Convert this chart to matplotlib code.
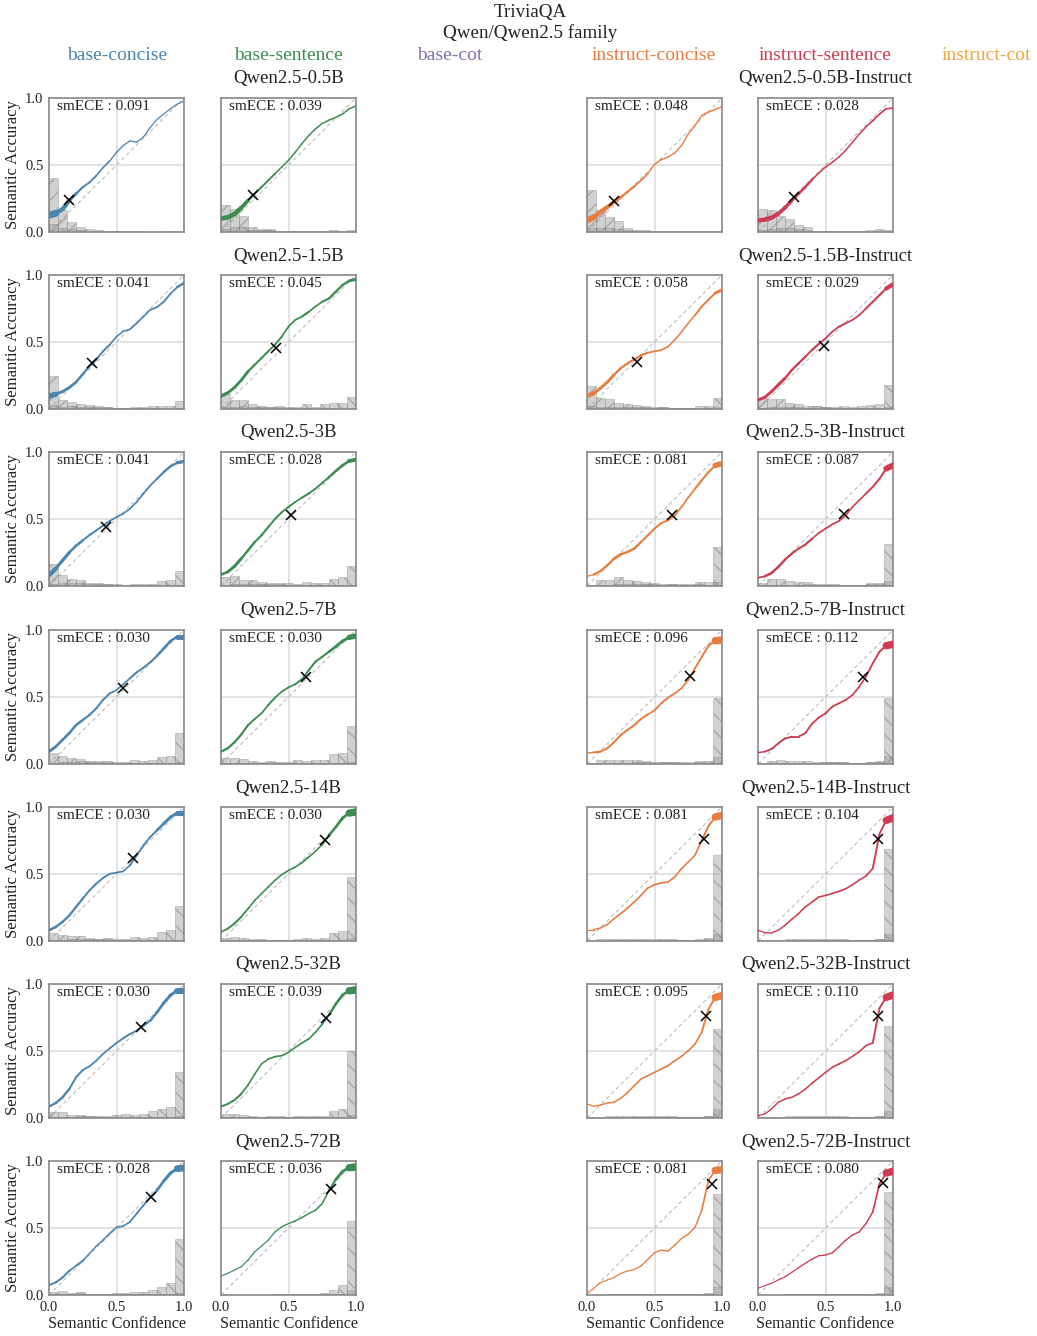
import numpy as np
import matplotlib
matplotlib.use('Agg')
import matplotlib.pyplot as plt
from matplotlib.collections import LineCollection

plt.rcParams['font.family'] = ['Liberation Serif', 'DejaVu Serif']

MODEL_SIZES = ['0.5B', '1.5B', '3B', '7B', '14B', '32B', '72B']
SETTINGS = ['base-concise', 'base-sentence', 'base-cot',
            'instruct-concise', 'instruct-sentence', 'instruct-cot']
SETTING_COLORS = ['#4a84b0', '#3b8d52', '#8172b3', '#ea7b3f', '#cf3b50', '#f0a63e']

CONF_GRID = np.linspace(0, 1, 21)     # smoothed curve sample points
BIN_EDGES = np.linspace(0, 1, 16)     # 15 confidence bins

# smoothed accuracy vs confidence, one list per model size
bc_acc = [
    [0.125, 0.14, 0.17, 0.235, 0.285, 0.335, 0.37, 0.42, 0.48, 0.53, 0.595, 0.645, 0.68, 0.67, 0.71, 0.78, 0.84, 0.88, 0.92, 0.955, 0.975],
    [0.097, 0.11, 0.13, 0.16, 0.20, 0.26, 0.32, 0.37, 0.43, 0.48, 0.54, 0.58, 0.595, 0.64, 0.69, 0.74, 0.76, 0.80, 0.86, 0.91, 0.94],
    [0.08, 0.13, 0.19, 0.25, 0.30, 0.34, 0.38, 0.415, 0.45, 0.485, 0.515, 0.54, 0.577, 0.627, 0.69, 0.75, 0.80, 0.85, 0.893, 0.92, 0.93],
    [0.092, 0.13, 0.18, 0.23, 0.29, 0.328, 0.366, 0.415, 0.478, 0.527, 0.552, 0.595, 0.64, 0.684, 0.719, 0.759, 0.808, 0.863, 0.918, 0.95, 0.95],
    [0.08, 0.105, 0.142, 0.19, 0.254, 0.316, 0.378, 0.428, 0.47, 0.502, 0.51, 0.52, 0.565, 0.64, 0.714, 0.776, 0.826, 0.876, 0.925, 0.955, 0.955],
    [0.085, 0.112, 0.154, 0.216, 0.303, 0.358, 0.386, 0.428, 0.478, 0.52, 0.56, 0.595, 0.627, 0.652, 0.689, 0.726, 0.789, 0.858, 0.918, 0.95, 0.95],
    [0.074, 0.094, 0.13, 0.18, 0.218, 0.255, 0.31, 0.365, 0.41, 0.46, 0.504, 0.514, 0.546, 0.608, 0.67, 0.727, 0.78, 0.85, 0.91, 0.943, 0.948],
]
bs_acc = [
    [0.10, 0.11, 0.135, 0.18, 0.235, 0.285, 0.335, 0.385, 0.435, 0.485, 0.535, 0.595, 0.66, 0.72, 0.77, 0.81, 0.835, 0.855, 0.88, 0.92, 0.94],
    [0.097, 0.12, 0.16, 0.215, 0.28, 0.33, 0.38, 0.43, 0.48, 0.54, 0.615, 0.665, 0.69, 0.725, 0.765, 0.80, 0.825, 0.875, 0.925, 0.957, 0.967],
    [0.085, 0.105, 0.147, 0.204, 0.266, 0.328, 0.378, 0.44, 0.50, 0.55, 0.59, 0.627, 0.66, 0.69, 0.726, 0.77, 0.813, 0.858, 0.90, 0.933, 0.943],
    [0.092, 0.117, 0.162, 0.22, 0.29, 0.336, 0.378, 0.44, 0.495, 0.54, 0.572, 0.595, 0.634, 0.70, 0.764, 0.80, 0.838, 0.876, 0.918, 0.945, 0.955],
    [0.067, 0.092, 0.13, 0.18, 0.241, 0.303, 0.353, 0.403, 0.453, 0.495, 0.527, 0.552, 0.585, 0.627, 0.67, 0.72, 0.789, 0.85, 0.918, 0.955, 0.963],
    [0.085, 0.105, 0.134, 0.18, 0.246, 0.328, 0.403, 0.44, 0.458, 0.465, 0.49, 0.527, 0.56, 0.59, 0.64, 0.70, 0.769, 0.85, 0.918, 0.95, 0.955],
    [0.141, 0.161, 0.186, 0.211, 0.26, 0.323, 0.365, 0.41, 0.471, 0.509, 0.533, 0.553, 0.578, 0.608, 0.633, 0.682, 0.78, 0.861, 0.923, 0.95, 0.955],
]
ic_acc = [
    [0.087, 0.11, 0.15, 0.185, 0.225, 0.26, 0.30, 0.34, 0.385, 0.435, 0.505, 0.54, 0.56, 0.59, 0.645, 0.73, 0.795, 0.87, 0.895, 0.915, 0.935],
    [0.097, 0.117, 0.155, 0.20, 0.255, 0.305, 0.34, 0.37, 0.40, 0.42, 0.43, 0.44, 0.465, 0.515, 0.575, 0.64, 0.70, 0.765, 0.815, 0.865, 0.89],
    [0.072, 0.085, 0.112, 0.154, 0.204, 0.236, 0.254, 0.279, 0.328, 0.378, 0.428, 0.47, 0.49, 0.527, 0.59, 0.66, 0.726, 0.789, 0.85, 0.90, 0.913],
    [0.08, 0.087, 0.092, 0.117, 0.162, 0.216, 0.254, 0.29, 0.336, 0.37, 0.40, 0.453, 0.495, 0.527, 0.565, 0.627, 0.714, 0.80, 0.883, 0.92, 0.925],
    [0.085, 0.085, 0.097, 0.122, 0.167, 0.204, 0.246, 0.291, 0.34, 0.395, 0.42, 0.433, 0.44, 0.478, 0.54, 0.59, 0.64, 0.751, 0.858, 0.925, 0.938],
    [0.105, 0.087, 0.097, 0.112, 0.117, 0.147, 0.19, 0.241, 0.291, 0.316, 0.34, 0.366, 0.39, 0.428, 0.46, 0.502, 0.552, 0.64, 0.813, 0.90, 0.913],
    [0.017, 0.05, 0.092, 0.112, 0.13, 0.161, 0.179, 0.191, 0.216, 0.265, 0.315, 0.335, 0.328, 0.372, 0.422, 0.454, 0.504, 0.633, 0.856, 0.93, 0.935],
]
is_acc = [
    [0.087, 0.092, 0.107, 0.137, 0.18, 0.235, 0.285, 0.335, 0.39, 0.44, 0.485, 0.52, 0.56, 0.61, 0.67, 0.73, 0.785, 0.83, 0.88, 0.92, 0.925],
    [0.067, 0.087, 0.13, 0.18, 0.23, 0.29, 0.34, 0.39, 0.44, 0.485, 0.527, 0.577, 0.615, 0.64, 0.665, 0.70, 0.75, 0.80, 0.85, 0.90, 0.93],
    [0.062, 0.072, 0.097, 0.142, 0.197, 0.241, 0.279, 0.308, 0.353, 0.395, 0.428, 0.46, 0.485, 0.527, 0.59, 0.64, 0.69, 0.74, 0.80, 0.876, 0.90],
    [0.085, 0.092, 0.112, 0.154, 0.19, 0.204, 0.204, 0.229, 0.30, 0.346, 0.378, 0.428, 0.453, 0.478, 0.515, 0.577, 0.652, 0.751, 0.838, 0.883, 0.893],
    [0.08, 0.062, 0.06, 0.08, 0.117, 0.162, 0.204, 0.254, 0.291, 0.328, 0.34, 0.355, 0.37, 0.39, 0.42, 0.455, 0.485, 0.54, 0.80, 0.90, 0.92],
    [0.017, 0.03, 0.067, 0.117, 0.142, 0.154, 0.18, 0.216, 0.259, 0.30, 0.34, 0.378, 0.403, 0.428, 0.46, 0.495, 0.54, 0.56, 0.82, 0.90, 0.918],
    [0.05, 0.07, 0.087, 0.112, 0.136, 0.169, 0.203, 0.236, 0.268, 0.293, 0.298, 0.315, 0.36, 0.409, 0.447, 0.471, 0.533, 0.62, 0.83, 0.91, 0.923],
]

# share of answers per confidence bin, split into wrong / right
bc_inc = [
    [0.40, 0.165, 0.075, 0.035, 0.02, 0.012, 0.008, 0.004, 0.003, 0.002, 0.002, 0.001, 0.001, 0.001, 0.001],
    [0.25, 0.07, 0.055, 0.04, 0.03, 0.022, 0.015, 0.008, 0.006, 0.006, 0.005, 0.004, 0.004, 0.003, 0.005],
    [0.167, 0.085, 0.05, 0.045, 0.022, 0.02, 0.015, 0.01, 0.007, 0.007, 0.006, 0.004, 0.005, 0.005, 0.008],
    [0.08, 0.06, 0.048, 0.04, 0.025, 0.02, 0.015, 0.008, 0.007, 0.008, 0.006, 0.005, 0.006, 0.005, 0.012],
    [0.06, 0.045, 0.04, 0.035, 0.02, 0.015, 0.012, 0.007, 0.006, 0.007, 0.005, 0.004, 0.005, 0.005, 0.01],
    [0.047, 0.045, 0.025, 0.022, 0.012, 0.01, 0.008, 0.009, 0.008, 0.006, 0.006, 0.006, 0.006, 0.006, 0.015],
    [0.025, 0.03, 0.015, 0.02, 0.006, 0.006, 0.006, 0.006, 0.006, 0.005, 0.006, 0.006, 0.007, 0.008, 0.015],
]
bc_cor = [
    [0.06, 0.03, 0.02, 0.013, 0.01, 0.007, 0.008, 0.004, 0.004, 0.004, 0.003, 0.003, 0.003, 0.004, 0.003],
    [0.03, 0.015, 0.02, 0.017, 0.015, 0.014, 0.018, 0.01, 0.011, 0.016, 0.012, 0.023, 0.024, 0.024, 0.06],
    [0.017, 0.022, 0.02, 0.025, 0.013, 0.016, 0.018, 0.012, 0.01, 0.015, 0.016, 0.018, 0.035, 0.047, 0.112],
    [0.01, 0.012, 0.017, 0.025, 0.017, 0.015, 0.022, 0.014, 0.015, 0.029, 0.024, 0.032, 0.055, 0.06, 0.234],
    [0.008, 0.01, 0.012, 0.017, 0.015, 0.018, 0.02, 0.015, 0.016, 0.03, 0.025, 0.033, 0.067, 0.085, 0.26],
    [0.007, 0.011, 0.01, 0.013, 0.012, 0.013, 0.014, 0.021, 0.029, 0.024, 0.031, 0.054, 0.07, 0.085, 0.34],
    [0.005, 0.008, 0.004, 0.015, 0.006, 0.006, 0.011, 0.014, 0.014, 0.02, 0.024, 0.037, 0.062, 0.092, 0.417],
]
bs_inc = [
    [0.20, 0.175, 0.117, 0.04, 0.02, 0.02, 0.008, 0.006, 0.005, 0.004, 0.004, 0.003, 0.003, 0.003, 0.002],
    [0.11, 0.07, 0.07, 0.035, 0.025, 0.016, 0.012, 0.008, 0.006, 0.007, 0.005, 0.004, 0.004, 0.003, 0.004],
    [0.067, 0.077, 0.047, 0.042, 0.028, 0.02, 0.015, 0.01, 0.008, 0.009, 0.006, 0.005, 0.005, 0.005, 0.008],
    [0.047, 0.042, 0.037, 0.025, 0.016, 0.013, 0.009, 0.008, 0.008, 0.007, 0.006, 0.005, 0.006, 0.005, 0.012],
    [0.022, 0.03, 0.022, 0.015, 0.012, 0.009, 0.008, 0.007, 0.006, 0.006, 0.005, 0.004, 0.005, 0.005, 0.02],
    [0.03, 0.03, 0.022, 0.015, 0.011, 0.01, 0.009, 0.007, 0.006, 0.006, 0.005, 0.004, 0.005, 0.005, 0.025],
    [0.003, 0.003, 0.003, 0.003, 0.003, 0.003, 0.003, 0.004, 0.004, 0.004, 0.004, 0.004, 0.005, 0.006, 0.04],
]
bs_cor = [
    [0.02, 0.035, 0.035, 0.015, 0.012, 0.012, 0.007, 0.008, 0.009, 0.009, 0.01, 0.01, 0.014, 0.01, 0.012],
    [0.012, 0.015, 0.02, 0.015, 0.014, 0.017, 0.02, 0.015, 0.017, 0.037, 0.018, 0.037, 0.047, 0.047, 0.087],
    [0.007, 0.017, 0.012, 0.014, 0.014, 0.015, 0.024, 0.021, 0.015, 0.029, 0.025, 0.026, 0.055, 0.067, 0.15],
    [0.007, 0.007, 0.007, 0.01, 0.009, 0.023, 0.015, 0.015, 0.027, 0.024, 0.032, 0.033, 0.072, 0.08, 0.28],
    [0.003, 0.008, 0.006, 0.005, 0.007, 0.009, 0.01, 0.011, 0.012, 0.024, 0.014, 0.026, 0.06, 0.072, 0.478],
    [0.004, 0.006, 0.005, 0.005, 0.007, 0.013, 0.014, 0.011, 0.016, 0.017, 0.017, 0.018, 0.055, 0.067, 0.50],
    [0.0, 0.001, 0.001, 0.002, 0.002, 0.003, 0.004, 0.005, 0.007, 0.009, 0.01, 0.013, 0.037, 0.074, 0.55],
]
ic_inc = [
    [0.31, 0.166, 0.11, 0.08, 0.032, 0.017, 0.012, 0.006, 0.006, 0.005, 0.004, 0.004, 0.003, 0.004, 0.003],
    [0.17, 0.08, 0.072, 0.042, 0.035, 0.03, 0.025, 0.015, 0.012, 0.008, 0.007, 0.006, 0.01, 0.008, 0.012],
    [0.005, 0.042, 0.047, 0.067, 0.042, 0.04, 0.03, 0.025, 0.018, 0.016, 0.012, 0.01, 0.012, 0.01, 0.03],
    [0.01, 0.03, 0.033, 0.032, 0.028, 0.028, 0.02, 0.015, 0.016, 0.012, 0.01, 0.009, 0.012, 0.013, 0.055],
    [0.005, 0.012, 0.015, 0.015, 0.015, 0.016, 0.015, 0.014, 0.013, 0.012, 0.011, 0.009, 0.011, 0.016, 0.055],
    [0.004, 0.009, 0.014, 0.012, 0.012, 0.015, 0.012, 0.014, 0.013, 0.013, 0.011, 0.01, 0.011, 0.016, 0.067],
    [0.001, 0.003, 0.004, 0.005, 0.005, 0.006, 0.006, 0.007, 0.007, 0.007, 0.008, 0.008, 0.009, 0.012, 0.062],
]
ic_cor = [
    [0.03, 0.03, 0.03, 0.025, 0.012, 0.008, 0.008, 0.004, 0.006, 0.005, 0.004, 0.005, 0.005, 0.008, 0.01],
    [0.02, 0.015, 0.017, 0.012, 0.012, 0.015, 0.018, 0.01, 0.012, 0.006, 0.008, 0.008, 0.022, 0.024, 0.082],
    [0.001, 0.006, 0.008, 0.015, 0.012, 0.015, 0.012, 0.015, 0.011, 0.012, 0.01, 0.015, 0.027, 0.028, 0.29],
    [0.001, 0.004, 0.007, 0.009, 0.008, 0.013, 0.013, 0.01, 0.017, 0.012, 0.013, 0.014, 0.019, 0.025, 0.495],
    [0.001, 0.002, 0.004, 0.005, 0.006, 0.006, 0.008, 0.008, 0.009, 0.009, 0.007, 0.007, 0.012, 0.02, 0.64],
    [0.001, 0.001, 0.002, 0.002, 0.003, 0.004, 0.004, 0.006, 0.007, 0.008, 0.007, 0.007, 0.01, 0.015, 0.664],
    [0.0, 0.0, 0.0, 0.001, 0.001, 0.001, 0.002, 0.002, 0.003, 0.003, 0.003, 0.003, 0.005, 0.01, 0.757],
]
is_inc = [
    [0.174, 0.166, 0.117, 0.1, 0.05, 0.037, 0.01, 0.008, 0.006, 0.005, 0.004, 0.004, 0.003, 0.004, 0.003],
    [0.085, 0.077, 0.077, 0.042, 0.035, 0.022, 0.025, 0.012, 0.01, 0.008, 0.006, 0.005, 0.006, 0.005, 0.012],
    [0.022, 0.055, 0.05, 0.035, 0.028, 0.03, 0.012, 0.015, 0.013, 0.01, 0.009, 0.008, 0.012, 0.012, 0.035],
    [0.01, 0.025, 0.027, 0.025, 0.022, 0.02, 0.017, 0.015, 0.014, 0.012, 0.011, 0.01, 0.012, 0.014, 0.06],
    [0.005, 0.009, 0.011, 0.012, 0.012, 0.013, 0.014, 0.013, 0.013, 0.014, 0.011, 0.01, 0.011, 0.016, 0.05],
    [0.005, 0.009, 0.011, 0.015, 0.012, 0.012, 0.014, 0.012, 0.013, 0.012, 0.011, 0.01, 0.011, 0.016, 0.055],
    [0.001, 0.002, 0.003, 0.004, 0.005, 0.005, 0.006, 0.006, 0.007, 0.007, 0.007, 0.007, 0.008, 0.012, 0.057],
]
is_cor = [
    [0.015, 0.025, 0.03, 0.03, 0.02, 0.017, 0.007, 0.007, 0.009, 0.009, 0.01, 0.01, 0.015, 0.02, 0.017],
    [0.01, 0.012, 0.017, 0.012, 0.013, 0.01, 0.021, 0.014, 0.012, 0.024, 0.018, 0.019, 0.033, 0.034, 0.18],
    [0.002, 0.007, 0.007, 0.009, 0.01, 0.013, 0.007, 0.01, 0.011, 0.008, 0.009, 0.01, 0.02, 0.025, 0.31],
    [0.001, 0.003, 0.005, 0.006, 0.007, 0.01, 0.011, 0.012, 0.013, 0.012, 0.011, 0.01, 0.015, 0.02, 0.495],
    [0.001, 0.001, 0.002, 0.003, 0.004, 0.005, 0.007, 0.006, 0.008, 0.008, 0.006, 0.006, 0.01, 0.015, 0.69],
    [0.0, 0.001, 0.002, 0.002, 0.003, 0.004, 0.005, 0.005, 0.006, 0.006, 0.006, 0.006, 0.01, 0.015, 0.69],
    [0.0, 0.0, 0.0, 0.001, 0.001, 0.001, 0.002, 0.002, 0.003, 0.003, 0.002, 0.003, 0.005, 0.01, 0.77],
]

# (mean confidence, mean accuracy)
bc_mean = [(0.15, 0.24), (0.32, 0.34), (0.42, 0.44), (0.55, 0.565), (0.62, 0.62), (0.68, 0.68), (0.757, 0.732)]
bs_mean = [(0.24, 0.275), (0.41, 0.455), (0.52, 0.53), (0.63, 0.65), (0.77, 0.752), (0.78, 0.746), (0.817, 0.794)]
ic_mean = [(0.2, 0.23), (0.37, 0.35), (0.63, 0.53), (0.76, 0.66), (0.87, 0.76), (0.88, 0.76), (0.926, 0.826)]
is_mean = [(0.265, 0.26), (0.49, 0.47), (0.635, 0.54), (0.78, 0.65), (0.89, 0.76), (0.89, 0.76), (0.923, 0.836)]

bc_ece = [0.091, 0.041, 0.041, 0.030, 0.030, 0.030, 0.028]
bs_ece = [0.039, 0.045, 0.028, 0.030, 0.030, 0.039, 0.036]
ic_ece = [0.048, 0.058, 0.081, 0.096, 0.081, 0.095, 0.081]
is_ece = [0.028, 0.029, 0.087, 0.112, 0.104, 0.110, 0.080]

# column index -> data for that setting (cot columns have no runs)
panels = {
    0: (bc_acc, bc_inc, bc_cor, bc_mean, bc_ece),
    1: (bs_acc, bs_inc, bs_cor, bs_mean, bs_ece),
    3: (ic_acc, ic_inc, ic_cor, ic_mean, ic_ece),
    4: (is_acc, is_inc, is_cor, is_mean, is_ece),
}

# layout in pixels
W, H = 1037, 1336
COL_LEFT = [49, 221, 392, 587, 758, 929]
ROW_TOP = [98, 275, 452, 630, 807, 984, 1161]
AX_W, AX_H = 135, 134
HEADER_X = [117, 288, 450, 654, 825, 986]
TEXT = '#222222'

fig = plt.figure(figsize=(W / 100, H / 100), dpi=100)

fig.text(530 / W, 1 - 12 / H, 'TriviaQA', ha='center', va='center', fontsize=13.7, color=TEXT)
fig.text(530 / W, 1 - 33 / H, 'Qwen/Qwen2.5 family', ha='center', va='center', fontsize=13.7, color=TEXT)
for name, color, hx in zip(SETTINGS, SETTING_COLORS, HEADER_X):
    fig.text(hx / W, 1 - 55 / H, name, ha='center', va='center', fontsize=14, color=color)


def draw_panel(ax, acc, inc, cor, mean, ece, color):
    ax.set_xlim(0, 1)
    ax.set_ylim(0, 1)
    ax.set_xticks([0, 0.5, 1])
    ax.set_yticks([0, 0.5, 1])
    ax.grid(True, color='#dddddd', lw=1.2, zorder=0)
    ax.set_axisbelow(True)
    ax.tick_params(length=0, labelsize=10.5, pad=4, colors=TEXT)
    for sp in ax.spines.values():
        sp.set_color('#8a8a8a')
        sp.set_linewidth(1.2)

    ax.plot([0, 1], [0, 1], ls=(0, (4, 3)), color='#b5b5b5', lw=0.7, zorder=1)

    lefts = BIN_EDGES[:-1]
    bw = BIN_EDGES[1] - BIN_EDGES[0]
    ax.bar(lefts, inc, width=bw, align='edge', facecolor='#9a9a9a', alpha=0.45,
           edgecolor='#7a7a7a', lw=0.5, hatch='//', zorder=2)
    ax.bar(lefts, cor, width=bw, align='edge', facecolor='#9a9a9a', alpha=0.45,
           edgecolor='#7a7a7a', lw=0.5, hatch='\\\\', zorder=2)

    # curve thickness follows how many answers fall in each bin
    acc = np.asarray(acc)
    total = np.asarray(inc) + np.asarray(cor)
    pts = np.column_stack([CONF_GRID, acc])
    segs = np.stack([pts[:-1], pts[1:]], axis=1)
    mids = 0.5 * (CONF_GRID[:-1] + CONF_GRID[1:])
    idx = np.minimum((mids / bw).astype(int), len(total) - 1)
    widths = 0.7 + 7.5 * np.minimum(total[idx], 0.5) ** 0.7
    lc = LineCollection(segs, linewidths=widths, colors=color, capstyle='round',
                        joinstyle='round', zorder=3)
    ax.add_collection(lc)

    ax.plot(mean[0], mean[1], 'x', color='black', ms=7, mew=1.1, zorder=4)
    ax.text(0.06, 0.935, f'smECE : {ece:.3f}', transform=ax.transAxes,
            ha='left', va='center', fontsize=11, color=TEXT, zorder=5)


for r, size in enumerate(MODEL_SIZES):
    top = ROW_TOP[r]
    fig.text(288.5 / W, 1 - (top - 19) / H, f'Qwen2.5-{size}', ha='center', va='center',
             fontsize=13.5, color=TEXT)
    fig.text(825.5 / W, 1 - (top - 19) / H, f'Qwen2.5-{size}-Instruct', ha='center', va='center',
             fontsize=13.5, color=TEXT)
    for c, (acc, inc, cor, mean, ece) in panels.items():
        rect = [COL_LEFT[c] / W, 1 - (top + AX_H) / H, AX_W / W, AX_H / H]
        ax = fig.add_axes(rect)
        draw_panel(ax, acc[r], inc[r], cor[r], mean[r], ece[r], SETTING_COLORS[c])
        ax.set_xticklabels(['0.0', '0.5', '1.0'])
        ax.set_yticklabels(['0.0', '0.5', '1.0'])
        if c != 0:
            ax.tick_params(labelleft=False)
        else:
            ax.set_ylabel('Semantic Accuracy', fontsize=12, color=TEXT, labelpad=3)
        if r != len(MODEL_SIZES) - 1:
            ax.tick_params(labelbottom=False)
        else:
            ax.set_xlabel('Semantic Confidence', fontsize=11.6, color=TEXT, labelpad=2)

fig.savefig('out.png', dpi=100)
